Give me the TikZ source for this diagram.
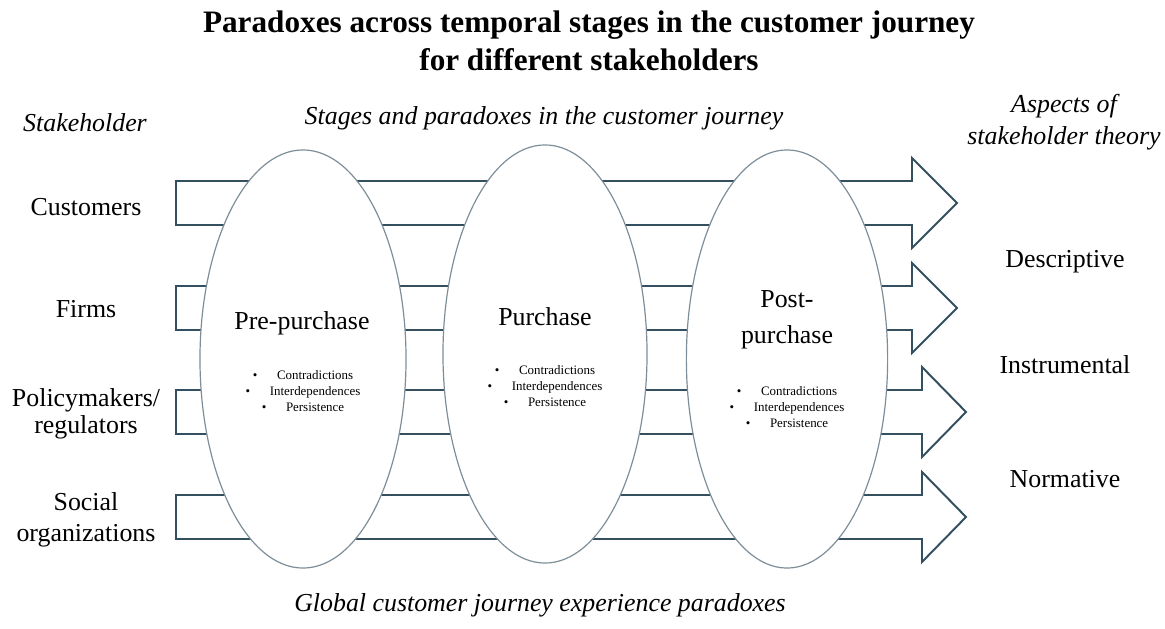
\documentclass[tikz,border=0pt]{standalone}
\usepackage{fontspec}
\setmainfont{Liberation Serif}
\usetikzlibrary{shapes.geometric}
\definecolor{flowline}{HTML}{34505F}
\definecolor{stageline}{HTML}{7D8E99}
\tikzset{
	bodytext/.style={font=\fontsize{18.4}{21}\selectfont, align=center},
	headtext/.style={align=center, font=\fontsize{18.4}{22.7}\selectfont\itshape},
	stage/.style={ellipse, draw=stageline, line width=0.85pt, fill=white, inner sep=0pt, minimum height=10.45cm},
	paradoxlist/.style={align=center, font=\fontsize{9.2}{11.4}\selectfont},
	flow/.style={draw=flowline, line width=1.4pt, line join=miter}
}

\begin{document}
\begin{tikzpicture}[x=0.025cm, y=-0.025cm]
		\useasboundingbox (0,0) rectangle (1165,629);
		\node [align=center, font=\fontsize{22.2}{27}\selectfont\bfseries] (title) at (589,41) {Paradoxes across temporal stages in the customer journey\\for different stakeholders};
		\node [headtext] (stakeholderhead) at (85,123) {Stakeholder};
		\node [headtext] (stageshead) at (544,118) {Stages and paradoxes in the customer journey};
		\node [headtext] (aspectshead) at (1064,122) {Aspects of\\stakeholder theory};
		\node [headtext] (globalnote) at (540,605) {Global customer journey experience paradoxes};
		% one flow per stakeholder, head pointing at the theory side
		\foreach \y/\xs/\xt in {203/912/957, 308/912/957, 412/922/966, 517/922/966}{
				\draw [flow](176,\y-22) -- (\xs,\y-22) -- (\xs,\y-45) -- (\xt,\y) -- (\xs,\y+45) -- (\xs,\y+22) -- (176,\y+22) -- cycle;
			}
		\foreach \n/\x/\y/\w in {pre/303/359/5.15, purchase/545/354/5.1, post/787/359/5.03}{
				\node [stage, minimum width=\w cm] (\n) at (\x,\y) {};
			}
		\node [bodytext] (prelabel) at (302,323) {Pre-purchase};
		\node [bodytext] (purchaselabel) at (545,317) {Purchase};
		\node [bodytext, font=\fontsize{18.4}{26}\selectfont] (postlabel) at (787,320) {Post-\\purchase};
		\foreach \n/\x/\y in {pre/303/391, purchase/545/386, post/787/407}{
				\node [paradoxlist] (\n list) at (\x,\y) {\textbullet\hspace{14pt}Contradictions\\\textbullet\hspace{14pt}Interdependences\\\textbullet\hspace{14pt}Persistence};
			}
		% stakeholders on the left
		\node [bodytext] (customers) at (86,207) {Customers};
		\node [bodytext] (firms) at (86,309) {Firms};
		\node [bodytext, font=\fontsize{18.4}{19.5}\selectfont] (policy) at (86,414) {Policymakers/\\regulators};
		\node [bodytext, font=\fontsize{18.4}{22}\selectfont] (social) at (86,520) {Social\\organizations};
		% aspects on the right
		\node [bodytext] (descriptive) at (1065,262) {Descriptive};
		\node [bodytext] (instrumental) at (1065,365) {Instrumental};
		\node [bodytext] (normative) at (1065,479) {Normative};
	\end{tikzpicture}
\end{document}
